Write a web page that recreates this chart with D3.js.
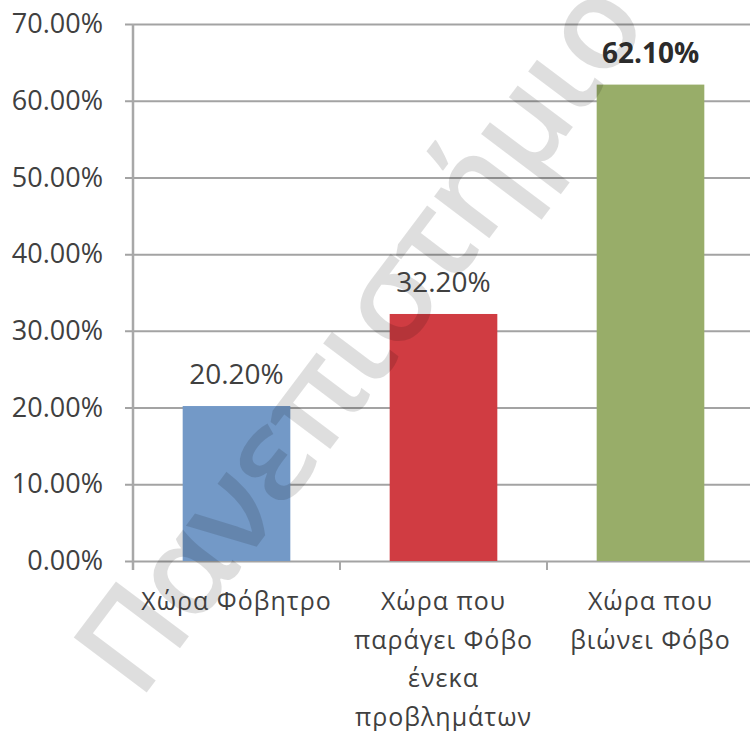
<!DOCTYPE html>
<html>
<head>
<meta charset="utf-8">
<script src="https://cdn.jsdelivr.net/npm/d3@7"></script>
<style>
	body { margin: 0; background: #fff; }
	svg { display: block; font-family: "Open Sans", sans-serif; }
</style>
</head>
<body>
<div id="chart"></div>
<script>
// data
var categories = [
	["Χώρα Φόβητρο"],
	["Χώρα που", "παράγει Φόβο", "ένεκα", "προβλημάτων"],
	["Χώρα που", "βιώνει Φόβο"]
];
var values = [0.202, 0.322, 0.621];
var barColors = ["#7399c7", "#d03c42", "#98ad69"];
var boldLabel = [false, false, true];
var yTicks = [0, 0.1, 0.2, 0.3, 0.4, 0.5, 0.6, 0.7];
var watermark = "Πανεπιστήμιο";

var W = 750, H = 731;
var margin = { left: 133, top: 24, right: -4, bottom: 170 }; // plot runs off the right edge a bit

var svg = d3.select("#chart")
	.append("svg")
	.attr("width", W)
	.attr("height", H);

var x = d3.scaleBand()
	.domain(d3.range(categories.length))
	.range([margin.left, W - margin.right])
	.paddingInner(0.48)
	.paddingOuter(0.24);

var y = d3.scaleLinear()
	.domain([0, 0.7])
	.range([H - margin.bottom, margin.top]);

// gridlines + y labels
var yAxis = svg.append("g")
	.attr("transform", "translate(" + margin.left + ",0)")
	.call(d3.axisLeft(y)
		.tickValues(yTicks)
		.tickFormat(d3.format(".2%"))
		.tickSize(-(W - margin.left))
		.tickPadding(30))
	.attr("font-family", "'Open Sans', sans-serif")
	.attr("font-size", 27);

yAxis.select(".domain").remove();
yAxis.selectAll(".tick line")
	.attr("x1", -8)
	.attr("stroke", "#a3a3a3")
	.attr("stroke-width", 2);
yAxis.selectAll(".tick text")
	.attr("fill", "#404040");

// vertical axis line
svg.append("line")
	.attr("x1", margin.left).attr("x2", margin.left)
	.attr("y1", y(0.7)).attr("y2", y(0) + 9)
	.attr("stroke", "#a8a8a8")
	.attr("stroke-width", 2.5);

// category tick marks between bands
var step = x.step();
var tickPos = d3.range(categories.length + 1).map(function (i) {
	return margin.left + i * step;
});
svg.selectAll(".ctick")
	.data(tickPos)
	.enter()
	.append("line")
	.attr("x1", function (d) { return d; })
	.attr("x2", function (d) { return d; })
	.attr("y1", y(0))
	.attr("y2", y(0) + 9)
	.attr("stroke", "#a8a8a8")
	.attr("stroke-width", 2);

// bars
svg.selectAll(".bar")
	.data(values)
	.enter()
	.append("rect")
	.attr("x", function (d, i) { return x(i); })
	.attr("y", function (d) { return y(d); })
	.attr("width", x.bandwidth())
	.attr("height", function (d) { return y(0) - y(d); })
	.attr("fill", function (d, i) { return barColors[i]; });

// watermark, sits over the bars
svg.append("text")
	.attr("transform", "translate(368,342) rotate(-53)")
	.attr("text-anchor", "middle")
	.attr("dominant-baseline", "middle")
	.attr("textLength", 850)
	.attr("lengthAdjust", "spacing")
	.attr("fill", "#000")
	.attr("fill-opacity", 0.13)
	.style("font-size", "128px")
	.style("font-weight", "600")
	.text(watermark);

// value labels
svg.selectAll(".val")
	.data(values)
	.enter()
	.append("text")
	.attr("x", function (d, i) { return x(i) + x.bandwidth() / 2; })
	.attr("y", function (d) { return y(d) - 22; })
	.attr("text-anchor", "middle")
	.attr("fill", function (d, i) { return boldLabel[i] ? "#2b2b2b" : "#404040"; })
	.style("font-size", "28px")
	.style("font-weight", function (d, i) { return boldLabel[i] ? "bold" : "normal"; })
	.text(function (d) { return d3.format(".2%")(d); });

// category labels, several lines each
categories.forEach(function (lines, i) {
	var t = svg.append("text")
		.attr("text-anchor", "middle")
		.attr("fill", "#404040")
		.style("font-size", "25px")
		.style("letter-spacing", "1px")
		.attr("x", x(i) + x.bandwidth() / 2)
		.attr("y", y(0) + 49);
	lines.forEach(function (ln, j) {
		t.append("tspan")
			.attr("x", x(i) + x.bandwidth() / 2)
			.attr("dy", j == 0 ? 0 : 38.5)
			.text(ln);
	});
});
</script>
</body>
</html>
